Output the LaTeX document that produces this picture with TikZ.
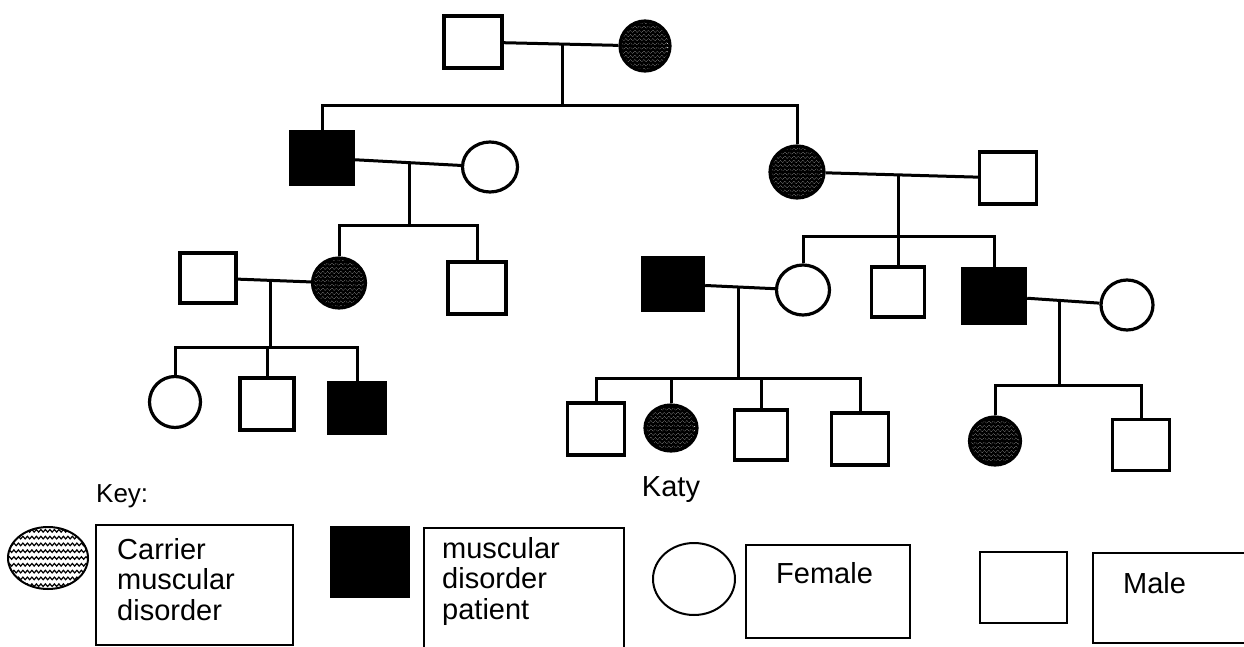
\documentclass[tikz,border=0pt]{standalone}
\usepackage{fontspec}
\setmainfont{Liberation Sans}
\usetikzlibrary{positioning,calc,shapes.geometric,decorations.pathmorphing}

\tikzset{
  waves/.style 2 args={path picture={
      \foreach \k in {-13,...,13}
        \draw[line width=#2, decorate, decoration={snake, amplitude=1.3pt, segment length=4.5pt}]
          ([yshift=\k*#1]path picture bounding box.west) -- ([yshift=\k*#1]path picture bounding box.east);}},
  male/.style={rectangle, draw, line width=3.4pt, minimum width=58pt, minimum height=52pt, inner sep=0pt},
  affected/.style={male, fill=black},
  female/.style={ellipse, draw, line width=3.2pt, minimum width=53pt, minimum height=50pt, inner sep=0pt},
  carrier/.style={female, waves={4.2pt}{2.5pt}},
  link/.style={line width=3pt},
  keybox/.style={rectangle, draw, line width=2pt, inner sep=0pt},
  keytext/.style={font=\fontsize{29}{30.5}\selectfont, inner sep=0pt, align=left},
}

\begin{document}
\begin{tikzpicture}[x=1pt, y=-1pt]
  \clip (0,0) rectangle (1244,647);

  % generation I
  \node[male] (m1) at (473,42) {};
  \node[carrier, minimum width=50pt] (f1) at (645,46) {};

  % generation II
  \node[affected, minimum width=62pt] (a2) at (322,158) {};
  \node[female, minimum width=55pt] (w2) at (490,167) {};
  \node[carrier, minimum width=54pt, minimum height=52pt] (c2) at (797,172) {};
  \node[male, minimum width=57pt] (h2) at (1008,178) {};

  % generation III
  \node[male, minimum width=56pt, minimum height=50pt] (m3a) at (208,278) {};
  \node[carrier] (c3) at (339,283) {};
  \node[male] (m3b) at (477,288) {};
  \node[affected, minimum width=61pt] (a3) at (673,284) {};
  \node[female] (f3) at (803,290) {};
  \node[male, minimum width=53pt, minimum height=50pt] (m3c) at (898,292) {};
  \node[affected, minimum width=63pt, minimum height=55pt] (a3d) at (994,296) {};
  \node[female, minimum width=52pt] (f3b) at (1127,305) {};

  % generation IV
  \node[female, minimum width=51pt, minimum height=51pt] (f4a) at (175,402) {};
  \node[male, minimum width=54pt] (m4b) at (267,404) {};
  \node[affected, minimum width=57pt, minimum height=51pt] (a4c) at (357,408) {};
  \node[male, minimum width=57pt] (m4d) at (596,429) {};
  \node[carrier, minimum width=52pt, minimum height=46pt] (katy) at (671,428) {};
  \node[male, minimum width=53pt, minimum height=50pt] (m4e) at (761,435) {};
  \node[male, minimum width=57pt] (m4f) at (860,439) {};
  \node[carrier, minimum width=51pt, minimum height=48pt] (c4) at (995,441) {};
  \node[male, minimum width=57pt, minimum height=51pt] (m4g) at (1141,445) {};

  % couples and where the children line starts
  \draw[link] (m1) -- (f1);
  \draw[link] (a2) -- (w2);
  \draw[link] (c2) -- (h2);
  \draw[link] (m3a) -- (c3);
  \draw[link] (a3) -- (f3);
  \draw[link] (a3d) -- (f3b);
  \coordinate (d1) at ($(m1)!0.52!(f1)$);
  \coordinate (d2) at ($(a2)!0.52!(w2)$);
  \coordinate (d3) at ($(c2)!0.48!(h2)$);
  \coordinate (d4) at ($(m3a)!0.48!(c3)$);
  \coordinate (d5) at ($(a3)!0.5!(f3)$);
  \coordinate (d6) at ($(a3d)!0.49!(f3b)$);
  \coordinate (s1) at (d1 |- 0,106);
  \coordinate (s2) at (d2 |- 0,225);
  \coordinate (s3) at (d3 |- 0,236);
  \coordinate (s4) at (d4 |- 0,347);
  \coordinate (s5) at (d5 |- 0,378);
  \coordinate (s6) at (d6 |- 0,385);
  \draw[link] (d1) -- (s1);
  \draw[link] (d2) -- (s2);
  \draw[link] (d3) -- (s3);
  \draw[link] (d4) -- (s4);
  \draw[link] (d5) -- (s5);
  \draw[link] (d6) -- (s6);

  % children
  \draw[link] (a2) |- (s1) -| (c2);
  \draw[link] (c3) |- (s2) -| (m3b);
  \draw[link] (f3) |- (s3) -| (a3d);
  \draw[link] (m3c) -- (m3c |- s3);
  \draw[link] (f4a) |- (s4) -| (a4c);
  \draw[link] (m4b) -- (m4b |- s4);
  \draw[link] (m4d) |- (s5) -| (m4f);
  \draw[link] (katy) -- (katy |- s5);
  \draw[link] (m4e) -- (m4e |- s5);
  \draw[link] (c4) |- (s6) -| (m4g);

  \node[keytext, below=24pt of katy] (katylbl) {Katy};

  % key
  \node[keytext, font=\fontsize{26}{28}\selectfont, anchor=base west] (keylbl) at (96,502) {Key:};
  \node[ellipse, draw, line width=2pt, minimum width=80pt, minimum height=62pt, inner sep=0pt,
        waves={6.8pt}{1.2pt}] (kcar) at (48,558) {};
  \node[keybox, minimum width=197pt, minimum height=120pt] (bcar) at (194.5,585) {};
  \node[keytext, anchor=north west] (tcar) at ([xshift=22pt, yshift=-14pt]bcar.north west)
        {Carrier\\muscular\\disorder};

  \node[rectangle, fill=black, minimum width=80pt, minimum height=72pt, inner sep=0pt] (kaff) at (370,562) {};
  \node[keybox, minimum width=200pt, minimum height=124pt] (baff) at (524,590) {};
  \node[keytext, anchor=north west] (taff) at ([xshift=19pt, yshift=-10pt]baff.north west)
        {muscular\\disorder\\patient};

  \node[ellipse, draw, line width=2pt, minimum width=82pt, minimum height=72pt, inner sep=0pt] (kfem) at (694,579) {};
  \node[keybox, minimum width=164pt, minimum height=93pt] (bfem) at (828,591.5) {};
  \node[keytext, anchor=north west] (tfem) at ([xshift=31pt, yshift=-18pt]bfem.north west) {Female};

  \node[keybox, minimum width=87pt, minimum height=71pt] (kmale) at (1023,587) {};
  \node[keybox, minimum width=163pt, minimum height=90pt] (bmale) at (1174.5,598) {};
  \node[keytext, anchor=north west] (tmale) at ([xshift=31pt, yshift=-20pt]bmale.north west) {Male};
\end{tikzpicture}
\end{document}
